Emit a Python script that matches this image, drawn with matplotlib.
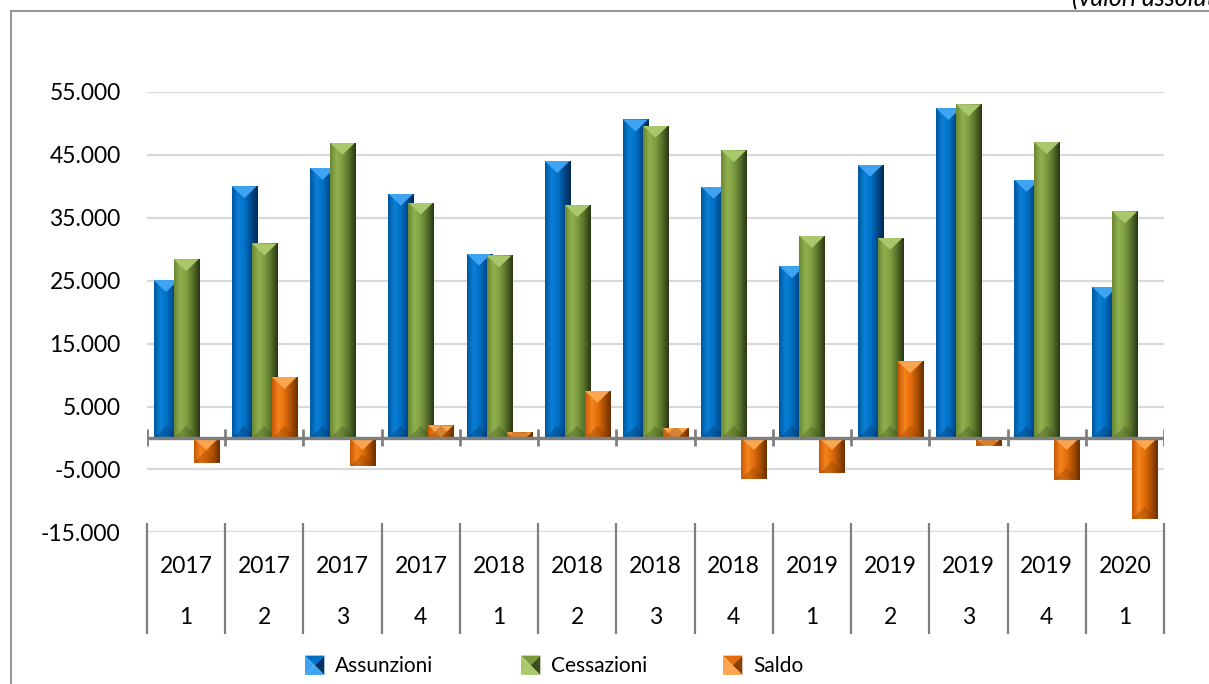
import numpy as np
import matplotlib
matplotlib.use("Agg")
import matplotlib.pyplot as plt
import matplotlib.colors as mcolors
import matplotlib.transforms as mtransforms
from matplotlib.patches import Polygon, Patch
from matplotlib.lines import Line2D
from matplotlib.legend_handler import HandlerBase
from matplotlib.ticker import FuncFormatter

plt.rcParams['font.family'] = ['Lato', 'DejaVu Sans']

# ── Data (quarterly flows, absolute values) ──────────────────────────────────
years = ["2017", "2017", "2017", "2017", "2018", "2018", "2018", "2018",
         "2019", "2019", "2019", "2019", "2020"]
quarters = ["1", "2", "3", "4", "1", "2", "3", "4", "1", "2", "3", "4", "1"]
assunzioni = [25100, 40000, 42900, 38800, 29300, 44000, 50600, 39900,
              27300, 43400, 52400, 41000, 24000]
cessazioni = [28400, 30900, 46900, 37400, 29000, 37000, 49600, 45700,
              32100, 31800, 53000, 47000, 36000]
saldo = [-3900, 9700, -4500, 2000, 900, 7500, 1600, -6500,
         -5600, 12200, -1200, -6600, -12800]

# label, values, gradient across bar width, light bevel, dark bevel
SERIES = [
    ("Assunzioni", assunzioni,
     ["#00579e", "#0a80d8", "#0070c4", "#00498c", "#002a52"], "#3ea4f2", "#003466"),
    ("Cessazioni", cessazioni,
     ["#6a8733", "#92b250", "#7c9b3f", "#556f2a", "#2a3713"], "#a9c86c", "#3d4f1c"),
    ("Saldo", saldo,
     ["#c85806", "#f6841e", "#e26c0a", "#a94e05", "#6a3000"], "#fba54e", "#8a4000"),
]

AXIS_GREY = "#7f7f7f"

fig = plt.figure(figsize=(12.09, 6.84), dpi=100)
ax = fig.add_axes([0.1216, 0.2216, 0.8412, 0.6443])
ax.set_xlim(-0.5, len(quarters) - 0.5)
ax.set_ylim(-15000, 55000)

x = np.arange(len(quarters))
width = 0.32
step = 0.256

# pixel scale, used for the bevel size
px_per_unit = ax.transData.transform((0, 1))[1] - ax.transData.transform((0, 0))[1]
bevel = 12 / px_per_unit

grad = np.linspace(0, 1, 64).reshape(1, -1)

for i, (label, vals, cols, light, dark) in enumerate(SERIES):
    z = 3 + i
    cmap = mcolors.LinearSegmentedColormap.from_list(label, cols)
    bars = ax.bar(x + (i - 1) * step, vals, width, color=cols[2],
                  linewidth=0, zorder=z)
    for p in bars:
        x0 = p.get_x()
        x1 = x0 + p.get_width()
        xc = (x0 + x1) / 2
        y0 = p.get_y()
        y1 = y0 + p.get_height()
        lo, hi = min(y0, y1), max(y0, y1)
        im = ax.imshow(grad, cmap=cmap, extent=(x0, x1, lo, hi), aspect='auto',
                       interpolation='bicubic', zorder=z + 0.01)
        im.set_clip_path(p)
        top = Polygon([(x0, hi), (x1, hi), (xc, hi - bevel)], closed=True,
                      facecolor=light, edgecolor='none', zorder=z + 0.02)
        ax.add_patch(top)
        top.set_clip_path(p)
        bot = Polygon([(x0, lo), (x1, lo), (xc, lo + bevel)], closed=True,
                      facecolor=dark, edgecolor='none', alpha=0.35, zorder=z + 0.02)
        ax.add_patch(bot)
        bot.set_clip_path(p)

ax.set_xlim(-0.5, len(quarters) - 0.5)
ax.set_ylim(-15000, 55000)

# ── Value axis & gridlines ───────────────────────────────────────────────────
ax.set_yticks(np.arange(-15000, 55001, 10000))
ax.yaxis.set_major_formatter(FuncFormatter(lambda v, _: f"{v:,.0f}".replace(",", ".")))
ax.yaxis.grid(True, color='#d9d9d9', linewidth=1.6)
ax.set_axisbelow(True)
ax.tick_params(axis='y', length=0, pad=19, labelsize=16.5, labelcolor='black')
ax.set_xticks([])
for s in ax.spines.values():
    s.set_visible(False)

# category axis drawn at zero, on top of the bars
bounds = np.arange(-0.5, len(quarters), 1.0)
ax.axhline(0, color=AXIS_GREY, linewidth=2.4, zorder=10)
tick = 8.5 / px_per_unit
ax.vlines(bounds, -tick, tick, color=AXIS_GREY, linewidth=2.0, zorder=10)

# ── Two-level category table below the plot ─────────────────────────────────
trans = mtransforms.blended_transform_factory(ax.transData, ax.transAxes)
ax.vlines(bounds, -0.2305, 0.0213, transform=trans, color=AXIS_GREY,
          linewidth=1.6, clip_on=False)
for xi, yr, q in zip(x, years, quarters):
    ax.text(xi, -0.0762, yr, transform=trans, ha='center', va='center', fontsize=16.5)
    ax.text(xi, -0.192, q, transform=trans, ha='center', va='center', fontsize=16.5)


# ── Legend with pyramid-style markers ────────────────────────────────────────
class PyramidHandler(HandlerBase):
    def __init__(self, base, light, dark):
        super().__init__()
        self.base, self.light, self.dark = base, light, dark

    def create_artists(self, legend, orig_handle, xdescent, ydescent,
                       width, height, fontsize, trans):
        s = min(width, height)
        x0, y0 = -xdescent, -ydescent + (height - s) / 2
        c = (x0 + s / 2, y0 + s / 2)
        tl, tr = (x0, y0 + s), (x0 + s, y0 + s)
        bl, br = (x0, y0), (x0 + s, y0)
        faces = [([tl, tr, c], self.base), ([tl, bl, c], self.light),
                 ([tr, br, c], self.dark), ([bl, br, c], self.light)]
        arts = []
        for pts, col in faces:
            poly = Polygon(pts, closed=True, facecolor=col, edgecolor='none',
                           transform=trans)
            arts.append(poly)
        return arts


legend_x = [305, 521, 723]
for (label, vals, cols, light, dark), lx in zip(SERIES, legend_x):
    h = Patch(facecolor=cols[2])
    leg = fig.legend([h], [label], loc='center left',
                     bbox_to_anchor=(lx / 1209, 18 / 684),
                     frameon=False, fontsize=15, borderpad=0, borderaxespad=0,
                     handlelength=1.05, handleheight=1.05, handletextpad=0.4,
                     handler_map={h: PyramidHandler(cols[2], light, dark)})

# ── Outer frame and cut-off unit note ────────────────────────────────────────
fx, fy = 11 / 1209, 1 - 11 / 684
fig.add_artist(Line2D([fx, fx], [0, fy], color='#8c8c8c', linewidth=1.3,
                      transform=fig.transFigure))
fig.add_artist(Line2D([fx, 1], [fy, fy], color='#8c8c8c', linewidth=1.3,
                      transform=fig.transFigure))
fig.text(1072 / 1209, 1 - 6 / 684, "(valori assoluti)", style='italic',
         fontsize=18, ha='left', va='baseline')

fig.savefig("out.png", dpi=100, facecolor='white')
